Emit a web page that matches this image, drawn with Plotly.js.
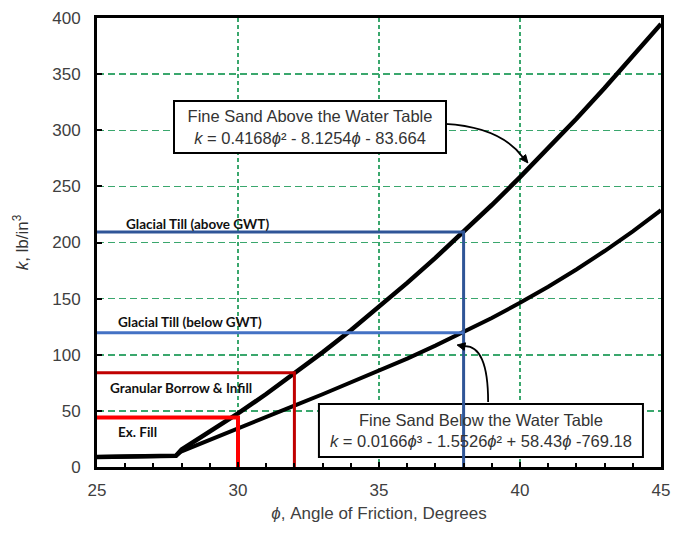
<!DOCTYPE html>
<html>
<head>
<meta charset="utf-8">
<script src="https://cdn.plot.ly/plotly-3.0.1.min.js"></script>
<style>html,body{margin:0;padding:0;background:#fff;}#chart{width:673px;height:533px;}</style>
</head>
<body>
<div id="chart"></div>
<script>
// Friction angle (degrees)
const phi = [25, 27.8, 28, 29, 30, 31, 32, 33, 34, 35, 36, 37, 38, 39, 40, 41, 42, 43, 44, 45];
// Fine sand above the water table, k (lb/in^3)
const kAbove = [9, 10, 15.6, 31.2, 47.7, 65.0, 83.1, 102.1, 121.9, 142.5, 164.0, 186.3, 209.4, 233.4, 258.2, 283.8, 310.3, 337.6, 365.7, 394.7];
// Fine sand below the water table, k (lb/in^3)
const kBelow = [9, 10, 14.0, 24.4, 34.6, 44.6, 54.7, 64.8, 75.1, 85.7, 96.6, 108.1, 120.1, 132.8, 146.3, 160.6, 176.0, 192.4, 210.0, 228.8];

// Design reference lines
const tillAboveX = [25, 38, 38];
const tillAboveY = [209.4, 209.4, 0];
const tillBelowX = [25, 38];
const tillBelowY = [119.5, 119.5];
const borrowX = [25, 32, 32];
const borrowY = [84, 84, 0];
const exFillX = [25, 30, 30];
const exFillY = [44, 44, 0];

const xTicks = [25, 30, 35, 40, 45];
const yTicks = [0, 50, 100, 150, 200, 250, 300, 350, 400];

const line = (x, y, color, width) => ({x, y, type: 'scatter', mode: 'lines', line: {color, width}, hoverinfo: 'skip', showlegend: false});

const traces = [
  line(phi, kAbove, '#000000', 4.5),
  line(phi, kBelow, '#000000', 4),
  line(tillAboveX, tillAboveY, '#2f5597', 3),
  line(tillBelowX, tillBelowY, '#4472c4', 3),
  line(borrowX, borrowY, '#c00000', 3),
  line(exFillX, exFillY, '#ff0000', 4)
];

const tickFont = {family: 'Liberation Sans, Arial, sans-serif', size: 17, color: '#404040'};
const boxFont = {family: 'Liberation Sans, Arial, sans-serif', size: 16.5, color: '#333333'};
const labFont = {family: 'Lato, sans-serif', size: 13.5, color: '#111111', weight: 'bold'};

const layout = {
  width: 673, height: 533,
  margin: {l: 97, r: 12, t: 18, b: 66},
  paper_bgcolor: '#ffffff', plot_bgcolor: '#ffffff',
  showlegend: false,
  xaxis: {
    range: [25, 45], tickvals: xTicks, ticktext: xTicks.map(String),
    showline: true, linecolor: '#000', linewidth: 3, mirror: true,
    ticks: 'inside', ticklen: 5, tickwidth: 2, tickcolor: '#000',
    minor: {dtick: 1, ticks: 'inside', ticklen: 4, tickwidth: 2, tickcolor: '#000', showgrid: false},
    showgrid: true, gridcolor: '#3aa76d', gridwidth: 1.3, griddash: '4px,3px',
    zeroline: false, tickfont: tickFont, ticklabelstandoff: 6,
    title: {text: '<i>ϕ</i>, Angle of Friction, Degrees', font: {family: 'Liberation Sans, Arial, sans-serif', size: 17, color: '#404040'}, standoff: 8}
  },
  yaxis: {
    range: [0, 400], tickvals: yTicks, ticktext: yTicks.map(String),
    showline: true, linecolor: '#000', linewidth: 3, mirror: true,
    ticks: 'inside', ticklen: 5, tickwidth: 2, tickcolor: '#000',
    showgrid: true, gridcolor: '#3aa76d', gridwidth: 1.5, griddash: '7px,4px',
    zeroline: false, tickfont: tickFont, ticklabelstandoff: 10
  },
  shapes: [
    {type: 'rect', xref: 'x', yref: 'y', x0: 32.87, x1: 44.36, y0: 8.9, y1: 56.1,
     fillcolor: '#ffffff', line: {color: '#000', width: 2}, layer: 'between'},
    {type: 'path', xref: 'x', yref: 'y', path: 'M 37.34,305.7 Q 39.3,303 40.1,276', line: {color: '#000', width: 1.8}},
    {type: 'path', xref: 'x', yref: 'y', path: 'M 40.28,270.9 L 40.20,278.3 L 40.01,274.4 Z', fillcolor: '#000', line: {color: '#000', width: 1}},
    {type: 'path', xref: 'x', yref: 'y', path: 'M 38.87,58 Q 38.87,109 38.0,107.6', line: {color: '#000', width: 1.8}},
    {type: 'path', xref: 'x', yref: 'y', path: 'M 37.77,108.7 L 38.07,110.6 L 38.02,103.9 Z', fillcolor: '#000', line: {color: '#000', width: 1}}
  ],
  annotations: [
    {xref: 'paper', yref: 'paper', x: -0.135, y: 0.5, xanchor: 'center', yanchor: 'middle', textangle: -90, showarrow: false,
     text: '<i>k</i>, lb/in<sup>3</sup>', font: {family: 'Liberation Sans, Arial, sans-serif', size: 17, color: '#333333'}},
    {xref: 'x', yref: 'y', x: 32.54, y: 302.8, showarrow: false,
     text: 'Fine Sand Above the Water Table<br><i>k</i> = 0.4168<i>ϕ</i>² - 8.1254<i>ϕ</i> - 83.664',
     font: boxFont, bgcolor: '#ffffff', bordercolor: '#000', borderwidth: 2, borderpad: 3, width: 264, height: 44, align: 'center'},
    {xref: 'x', yref: 'y', x: 38.62, y: 32.5, showarrow: false,
     text: 'Fine Sand Below the Water Table<br><i>k</i> = 0.0166<i>ϕ</i>³ - 1.5526<i>ϕ</i>² + 58.43<i>ϕ</i> -769.18',
     font: boxFont, align: 'center'},
    {xref: 'x', yref: 'y', x: 25.96, y: 216.5, xanchor: 'left', showarrow: false, text: 'Glacial Till (above GWT)', font: labFont},
    {xref: 'x', yref: 'y', x: 25.67, y: 129.3, xanchor: 'left', showarrow: false, text: 'Glacial Till (below GWT)', font: labFont},
    {xref: 'x', yref: 'y', x: 25.39, y: 70.6, xanchor: 'left', showarrow: false, text: 'Granular Borrow &amp; Infill', font: labFont},
    {xref: 'x', yref: 'y', x: 25.67, y: 31.4, xanchor: 'left', showarrow: false, text: 'Ex. Fill', font: labFont}
  ]
};

Plotly.newPlot('chart', traces, layout, {displayModeBar: false, staticPlot: true});
</script>
</body>
</html>
